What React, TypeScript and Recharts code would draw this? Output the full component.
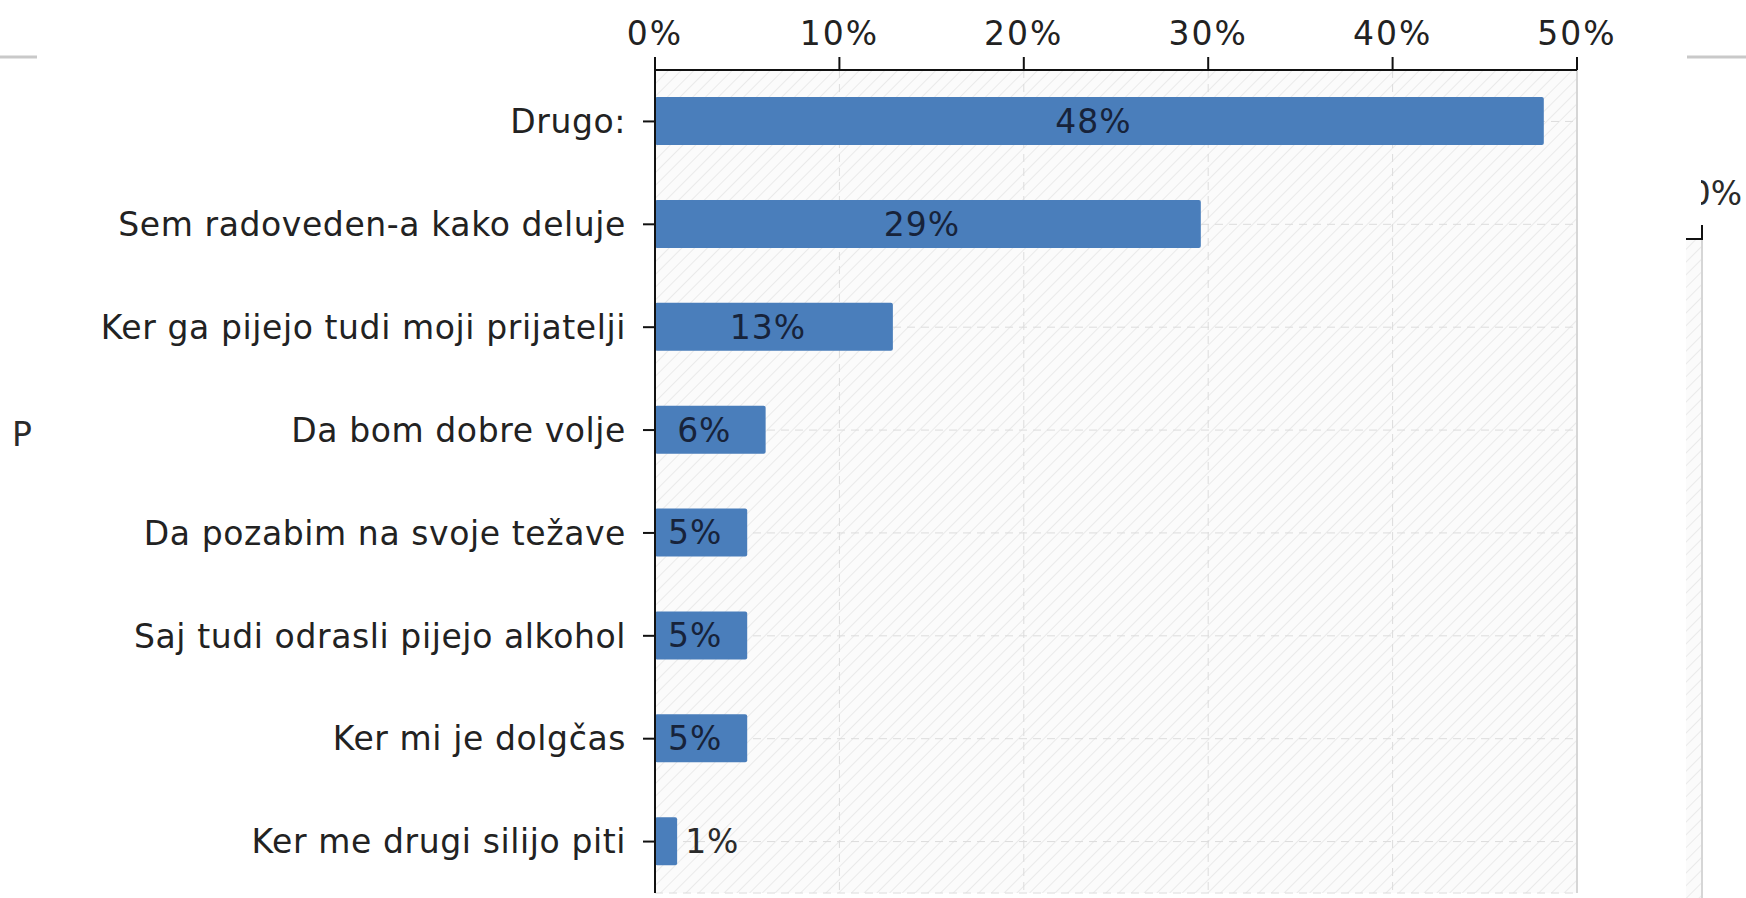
import { BarChart, Bar, XAxis, YAxis, CartesianGrid, LabelList, ReferenceLine } from 'recharts'

const categories = [
  'Drugo:',
  'Sem radoveden-a kako deluje',
  'Ker ga pijejo tudi moji prijatelji',
  'Da bom dobre volje',
  'Da pozabim na svoje težave',
  'Saj tudi odrasli pijejo alkohol',
  'Ker mi je dolgčas',
  'Ker me drugi silijo piti',
]
const shares = [48.2, 29.6, 12.9, 6.0, 5.0, 5.0, 5.0, 1.2]
const shareLabels = ['48%', '29%', '13%', '6%', '5%', '5%', '5%', '1%']
const xTicks = [0, 10, 20, 30, 40, 50]

const font = 'DejaVu Sans, Verdana, sans-serif'

function BarLabel(props: any) {
  const { x, y, width, height, value } = props
  const inside = width > 70
  return (
    <text
      x={inside ? x + width / 2 - 6 : x + width + 8}
      y={y + height / 2}
      dy="0.36em"
      textAnchor={inside ? 'middle' : 'start'}
      fontSize={33}
      fontFamily={font}
      letterSpacing={1}
      fill={inside ? '#17233a' : '#2a2a2a'}
    >
      {value}
    </text>
  )
}

export default function App() {
  const data = categories.map((name, i) => ({ name, share: shares[i], label: shareLabels[i] }))

  return (
    <div style={{ position: 'absolute', left: 0, top: 0, width: 1746, height: 898, background: '#fff', fontFamily: font }}>
      {/* bits of the neighbouring panel behind, plus the hatch pattern */}
      <svg width={1746} height={898} style={{ position: 'absolute', left: 0, top: 0 }}>
        <defs>
          <pattern id="hatch" width={9} height={9} patternUnits="userSpaceOnUse" patternTransform="rotate(45)">
            <rect width={9} height={9} fill="#fbfbfb" />
            <line x1={0} y1={0} x2={0} y2={9} stroke="#eaeaea" strokeWidth={2} />
          </pattern>
          <clipPath id="stripClip">
            <rect x={1686} y={0} width={60} height={898} />
          </clipPath>
          <clipPath id="textClip">
            <rect x={1701} y={0} width={45} height={898} />
          </clipPath>
        </defs>
        <line x1={0} y1={57} x2={37} y2={57} stroke="#c9c9c9" strokeWidth={3} />
        <line x1={1687} y1={57} x2={1746} y2={57} stroke="#c9c9c9" strokeWidth={3} />
        <text x={12} y={446} fontSize={33} fontFamily={font} fill="#2a2a2a">P</text>
        <g clipPath="url(#textClip)">
          <text x={1742} y={205} textAnchor="end" fontSize={33} fontFamily={font} fill="#2a2a2a">50%</text>
        </g>
        <g clipPath="url(#stripClip)">
          <rect x={1686} y={239} width={16} height={659} fill="url(#hatch)" />
          <line x1={1680} y1={239} x2={1703} y2={239} stroke="#111" strokeWidth={2} />
          <line x1={1702} y1={225} x2={1702} y2={239} stroke="#111" strokeWidth={2} />
          <line x1={1702} y1={240} x2={1702} y2={898} stroke="#d6d6d6" strokeWidth={2} />
        </g>
      </svg>
      <div style={{ position: 'absolute', left: 0, top: 0 }}>
        <BarChart
          width={1746}
          height={898}
          data={data}
          layout="vertical"
          margin={{ top: 0, right: 169, bottom: 5, left: 0 }}
        >
          <CartesianGrid fill="url(#hatch)" stroke="#dcdcdc" strokeDasharray="8 6" />
          <XAxis
            type="number"
            orientation="top"
            domain={[0, 50]}
            ticks={xTicks}
            tickFormatter={(v) => `${v}%`}
            height={70}
            tickSize={13}
            tickMargin={12}
            axisLine={{ stroke: '#111', strokeWidth: 2 }}
            tickLine={{ stroke: '#111', strokeWidth: 2 }}
            tick={{ fontSize: 33, fill: '#222', fontFamily: font, letterSpacing: 2 }}
            interval={0}
          />
          <XAxis
            xAxisId="bottom"
            type="number"
            orientation="bottom"
            domain={[0, 50]}
            height={0}
            tick={false}
            tickLine={false}
            axisLine={{ stroke: '#dedede', strokeDasharray: '6 4' }}
          />
          <YAxis
            type="category"
            dataKey="name"
            width={655}
            tickSize={12}
            tickMargin={17}
            axisLine={{ stroke: '#111', strokeWidth: 2 }}
            tickLine={{ stroke: '#111', strokeWidth: 2 }}
            tick={{ fontSize: 33, fill: '#222', fontFamily: font, letterSpacing: 0.6 }}
            interval={0}
          />
          <ReferenceLine x={50} stroke="#d6d6d6" strokeWidth={2} />
          <Bar dataKey="share" fill="#4a7ebb" barSize={48} radius={2} isAnimationActive={false}>
            <LabelList dataKey="label" content={BarLabel} />
          </Bar>
        </BarChart>
      </div>
    </div>
  )
}
